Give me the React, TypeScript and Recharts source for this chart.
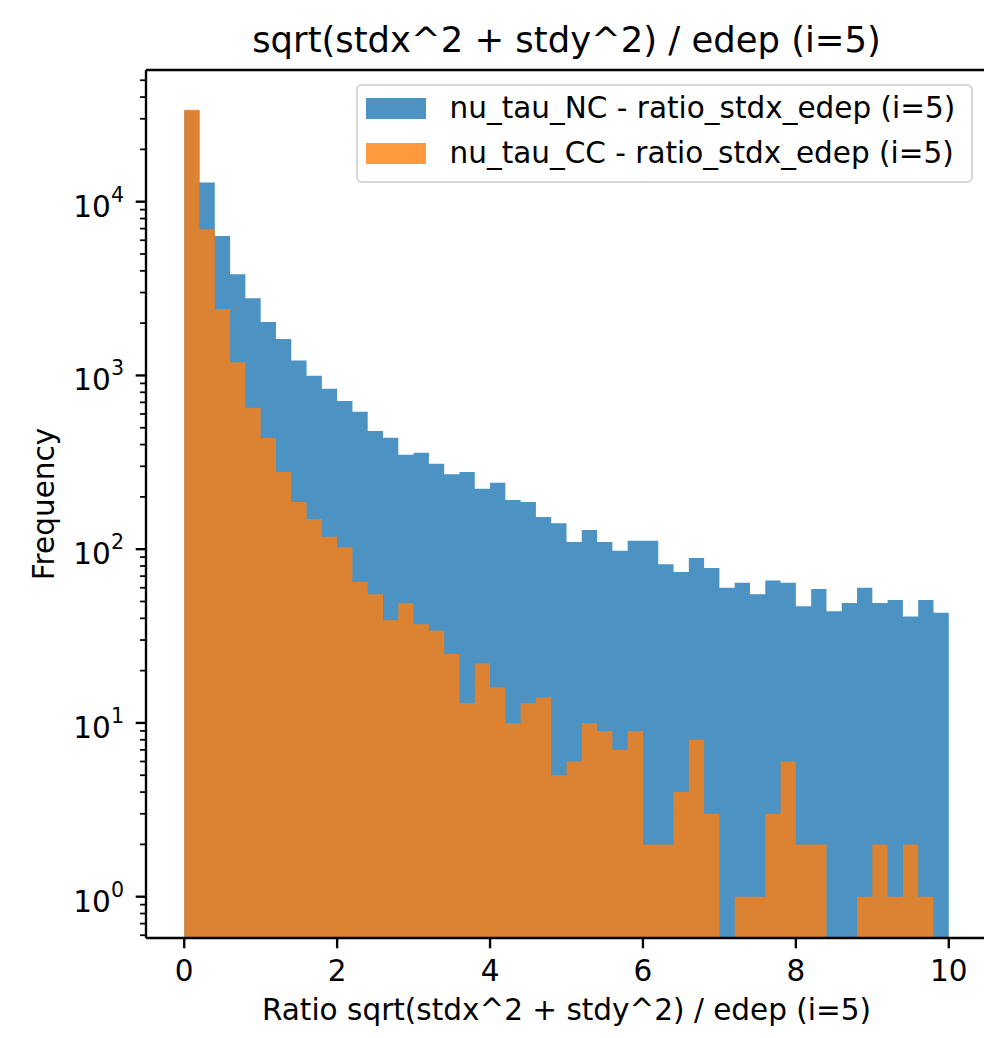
import { ComposedChart, Area, XAxis, YAxis, Legend, ReferenceLine } from 'recharts';

// histogram: 50 bins of width 0.2 over [0, 10]
const binEdges = Array.from({ length: 51 }, (_, i) => Math.round(i * 2) / 10);

const nuTauNC = [33500, 12900, 6350, 3820, 2780, 2030, 1620, 1220, 997, 839, 713, 618, 479, 438, 349, 359, 310, 270, 278, 223,
  241, 192, 187, 153, 141, 110, 129, 110, 98, 112, 112, 82, 74, 89, 78, 60, 64, 55, 66, 64,
  47, 59, 44, 49, 60, 49, 51, 41, 51, 43];
const nuTauCC = [33800, 6930, 2410, 1190, 652, 438, 278, 187, 149, 118, 103, 65, 55, 39, 49, 37, 34, 25, 13, 22,
  16, 10, 13, 14, 5, 6, 10, 9, 7, 9, 2, 2, 4, 8, 3, 0, 1, 1, 3, 6,
  2, 2, 0, 0, 1, 2, 1, 2, 1, 0];

const xTicks = [0, 2, 4, 6, 8, 10];
const majorY = [1, 10, 100, 1000, 10000];
const minorMult = [2, 3, 4, 5, 6, 7, 8, 9];
const yTicks = [0.6, 0.7, 0.8, 0.9, ...majorY.flatMap(m => [m, ...minorMult.map(k => m * k)])].filter(v => v <= 50000);

const seriesNames = ['nu_tau_NC - ratio_stdx_edep (i=5)', 'nu_tau_CC - ratio_stdx_edep (i=5)'];
const BLUE = '#1f77b4';
const ORANGE = '#ff7f0e';
const FONT = '"DejaVu Sans", sans-serif';
const Y_MIN = 0.5784;
const Y_MAX = 57270;

// empty bins can't sit on a log axis: push them below the visible range
const LOG_FLOOR = 0.01;
const data = binEdges.map((x, i) => {
  const k = Math.min(i, nuTauNC.length - 1); // last edge repeats last bin for the step
  return {
    x,
    nc: nuTauNC[k] > 0 ? nuTauNC[k] : LOG_FLOOR,
    cc: nuTauCC[k] > 0 ? nuTauCC[k] : LOG_FLOOR,
  };
});

function XTick({ x, y, payload }: any) {
  return (
    <g>
      <line x1={x} x2={x} y1={y} y2={y + 10.3} stroke="#000" strokeWidth={2.36} />
      <text x={x} y={y + 43} textAnchor="middle" fontSize={29.5} fontFamily={FONT} fill="#000">{payload.value}</text>
    </g>
  );
}

function YTick({ x, y, payload }: any) {
  const lg = Math.log10(payload.value);
  const exp = Math.round(lg);
  const major = Math.abs(lg - exp) < 1e-6;
  return (
    <g>
      <line x1={x} x2={x - (major ? 10.3 : 5.9)} y1={y} y2={y} stroke="#000" strokeWidth={major ? 2.36 : 1.77} />
      {major && (
        <text x={x - 22} y={y + 15} textAnchor="end" fontSize={29.5} fontFamily={FONT} fill="#000">
          10<tspan dy={-15} fontSize={20.6}>{exp}</tspan>
        </text>
      )}
    </g>
  );
}

function HistLegend() {
  const colors = [BLUE, ORANGE];
  return (
    <div style={{
      position: 'relative', boxSizing: 'border-box', width: 617, height: 99,
      border: '2px solid #d6d6d6', borderRadius: 6, background: 'rgba(255,255,255,0.8)', fontFamily: FONT,
    }}>
      {seriesNames.map((name, i) => (
        <div key={name} style={{ position: 'absolute', left: 8, top: 12 + i * 45, height: 21, display: 'flex', alignItems: 'center' }}>
          <div style={{ width: 60, height: 21, background: colors[i], opacity: 0.8 }} />
          <span style={{ marginLeft: 23.5, fontSize: 29.5, color: '#000', whiteSpace: 'nowrap', lineHeight: '21px' }}>{name}</span>
        </div>
      ))}
    </div>
  );
}

export default function App() {
  return (
    <div style={{ position: 'absolute', left: 0, top: 0, width: 984, height: 1038, overflow: 'hidden', background: '#fff' }}>
      <ComposedChart width={1000} height={1038} data={data} margin={{ top: 70, right: 13, bottom: 0, left: 0 }}>
        <XAxis
          xAxisId="num" dataKey="x" type="number" domain={[-0.5, 10.5]} ticks={xTicks} interval={0}
          height={100} tick={<XTick />} tickLine={false} tickSize={0} tickMargin={0}
          axisLine={{ stroke: '#000', strokeWidth: 2.36 }} allowDataOverflow
        />
        <YAxis
          type="number" scale="log" domain={[Y_MIN, Y_MAX]} allowDataOverflow ticks={yTicks} interval={0}
          width={146} tick={<YTick />} tickLine={false} tickSize={0} tickMargin={0}
          axisLine={{ stroke: '#000', strokeWidth: 2.36 }}
        />
        <Area xAxisId="num" type="stepAfter" dataKey="nc" stroke="none" fill={BLUE} fillOpacity={0.8}
          dot={false} activeDot={false} isAnimationActive={false} />
        <Area xAxisId="num" type="stepAfter" dataKey="cc" stroke="none" fill={ORANGE} fillOpacity={0.8}
          dot={false} activeDot={false} isAnimationActive={false} />
        {/* top spine */}
        <ReferenceLine xAxisId="num" y={Y_MAX} stroke="#000" strokeWidth={2.36} ifOverflow="visible" />
        <Legend layout="vertical" align="center" verticalAlign="middle"
          wrapperStyle={{ left: 356, top: 84, width: 617, height: 99 }} content={<HistLegend />} />
        <text x={566.5} y={52} textAnchor="middle" fontSize={35.4} fontFamily={FONT} fill="#000">
          sqrt(stdx^2 + stdy^2) / edep (i=5)
        </text>
        <text x={566.5} y={1020} textAnchor="middle" fontSize={29.5} fontFamily={FONT} fill="#000">
          Ratio sqrt(stdx^2 + stdy^2) / edep (i=5)
        </text>
        <text x={54} y={504} transform="rotate(-90, 54, 504)" textAnchor="middle" fontSize={29.5} fontFamily={FONT} fill="#000">
          Frequency
        </text>
      </ComposedChart>
    </div>
  );
}
